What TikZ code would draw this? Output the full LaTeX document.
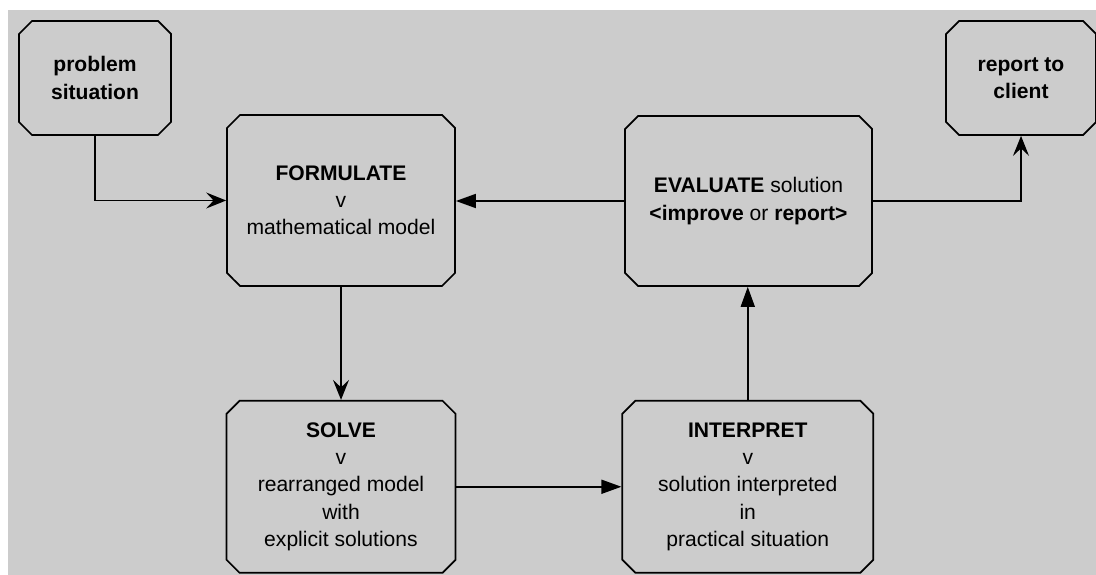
\documentclass[tikz,border=0pt]{standalone}
\usepackage{fontspec}
\setmainfont{Liberation Sans}
\usetikzlibrary{shapes.misc, arrows.meta, positioning}
\definecolor{bggray}{HTML}{CCCCCC}
\tikzset{
    box/.style={draw=black, line width=1pt, chamfered rectangle, chamfered rectangle xsep=0.13cm, chamfered rectangle ysep=0.13cm, align=center, inner sep=0pt, font=\fontsize{12}{15.5}\selectfont},
    bigbox/.style={box, minimum width=4.6cm, minimum height=3.42cm},
    smallbox/.style={box, minimum width=3.04cm, minimum height=2.28cm},
    arrow/.style={-{Stealth[length=0.4cm, width=0.32cm, inset=0.15cm]}, line width=1pt},
    triarrow/.style={-{Triangle[length=0.4cm, width=0.28cm]}, line width=1pt}
}

\begin{document}
\begin{tikzpicture}
        \useasboundingbox (0,0) rectangle (21.92,-11.5);
        \fill [bggray] (0.16,-0.2) rectangle (21.92,-11.5);

        % Top row
        \node [smallbox] (problem) at (1.9,-1.56) {\textbf{problem}\\\textbf{situation}};
        \node [smallbox, minimum width=3.0cm] (report) at (20.42,-1.56) {\textbf{report to}\\\textbf{client}};

        % Middle row
        \node [bigbox, minimum width=4.56cm] (formulate) at (6.82,-4.01) {\textbf{FORMULATE}\\v\\mathematical model};
        \node [bigbox, minimum width=4.94cm, minimum height=3.4cm] (evaluate) at (14.97,-4.02) {\textbf{EVALUATE} solution\\\textbf{<improve} or \textbf{report>}};

        % Bottom row
        \node [bigbox, minimum width=4.58cm, minimum height=3.44cm, below=2.26cm of formulate] (solve) {\textbf{SOLVE}\\v\\rearranged model\\with\\explicit solutions};
        \node [bigbox, minimum width=5.02cm, minimum height=3.44cm, right=3.3cm of solve] (interpret) {\textbf{INTERPRET}\\v\\solution interpreted\\in\\practical situation};

        \draw [arrow] (problem.south) |- (formulate.west);
        \draw [arrow] (formulate.south) -- (solve.north);
        \draw [triarrow] (solve.east) -- (interpret.west);
        \draw [triarrow] (interpret.north) -- (interpret.north |- evaluate.south);
        \draw [triarrow] (evaluate.west) -- (evaluate.west -| formulate.east);
        \draw [arrow] (evaluate.east) -| (report.south);
    \end{tikzpicture}
\end{document}
